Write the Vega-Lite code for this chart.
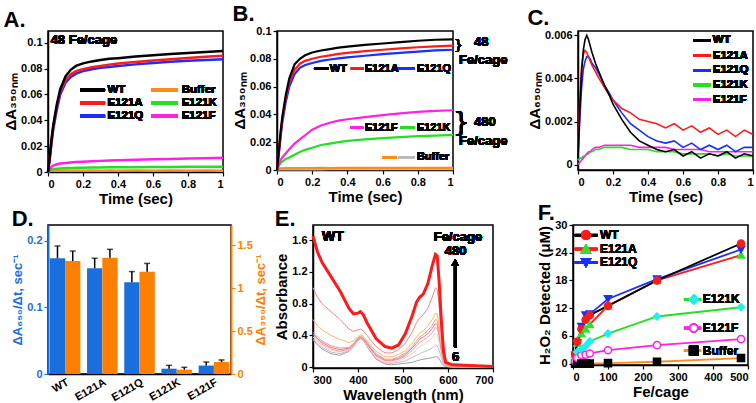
{
"$schema": "https://vega.github.io/schema/vega-lite/v6.json",
"padding": {"left": 2, "top": 2, "right": 2, "bottom": 2},
"background": "white",
"datasets": {
"A": [
{"t":0,"WT":0,"E121A":0,"E121Q":0,"E121F":0,"E121K":0,"Buffer":0.0005},
{"t":0.01,"WT":0.012,"E121A":0.011,"E121Q":0.010,"E121F":0.002,"E121K":0.001,"Buffer":0.0008},
{"t":0.02,"WT":0.025,"E121A":0.024,"E121Q":0.022,"E121F":0.004,"E121K":0.0018,"Buffer":0.001},
{"t":0.03,"WT":0.036,"E121A":0.035,"E121Q":0.033,"E121F":0.005,"E121K":0.0022,"Buffer":0.001},
{"t":0.05,"WT":0.052,"E121A":0.050,"E121Q":0.048,"E121F":0.006,"E121K":0.0026,"Buffer":0.0011},
{"t":0.07,"WT":0.064,"E121A":0.062,"E121Q":0.060,"E121F":0.0065,"E121K":0.0028,"Buffer":0.001},
{"t":0.1,"WT":0.074,"E121A":0.071,"E121Q":0.069,"E121F":0.007,"E121K":0.003,"Buffer":0.0011},
{"t":0.13,"WT":0.079,"E121A":0.0755,"E121Q":0.0735,"E121F":0.0074,"E121K":0.0031,"Buffer":0.001},
{"t":0.16,"WT":0.082,"E121A":0.078,"E121Q":0.076,"E121F":0.0077,"E121K":0.0032,"Buffer":0.0011},
{"t":0.2,"WT":0.084,"E121A":0.0795,"E121Q":0.078,"E121F":0.008,"E121K":0.0033,"Buffer":0.001},
{"t":0.25,"WT":0.0855,"E121A":0.081,"E121Q":0.0795,"E121F":0.0083,"E121K":0.0034,"Buffer":0.0011},
{"t":0.3,"WT":0.0865,"E121A":0.082,"E121Q":0.0805,"E121F":0.0086,"E121K":0.0035,"Buffer":0.001},
{"t":0.35,"WT":0.0875,"E121A":0.083,"E121Q":0.0812,"E121F":0.0088,"E121K":0.0036,"Buffer":0.0011},
{"t":0.4,"WT":0.088,"E121A":0.0838,"E121Q":0.082,"E121F":0.009,"E121K":0.0036,"Buffer":0.001},
{"t":0.5,"WT":0.0892,"E121A":0.085,"E121Q":0.0832,"E121F":0.0094,"E121K":0.0037,"Buffer":0.0011},
{"t":0.6,"WT":0.0902,"E121A":0.0862,"E121Q":0.0842,"E121F":0.0098,"E121K":0.0038,"Buffer":0.001},
{"t":0.7,"WT":0.0912,"E121A":0.0872,"E121Q":0.0852,"E121F":0.0101,"E121K":0.0039,"Buffer":0.0011},
{"t":0.8,"WT":0.092,"E121A":0.0882,"E121Q":0.086,"E121F":0.0104,"E121K":0.004,"Buffer":0.001},
{"t":0.9,"WT":0.0928,"E121A":0.089,"E121Q":0.0866,"E121F":0.0107,"E121K":0.004,"Buffer":0.0011},
{"t":1.0,"WT":0.0935,"E121A":0.0898,"E121Q":0.0872,"E121F":0.011,"E121K":0.0041,"Buffer":0.001}
],
"B": [
{"t":0,"WT":0,"E121A":0,"E121Q":0,"E121F":0,"E121K":0,"BufO":0.0008,"BufG":0.0003},
{"t":0.01,"WT":0.013,"E121A":0.012,"E121Q":0.011,"E121F":0.004,"E121K":0.003,"BufO":0.001,"BufG":0.0004},
{"t":0.02,"WT":0.027,"E121A":0.025,"E121Q":0.023,"E121F":0.007,"E121K":0.005,"BufO":0.0012,"BufG":0.0004},
{"t":0.03,"WT":0.038,"E121A":0.036,"E121Q":0.034,"E121F":0.009,"E121K":0.006,"BufO":0.0012,"BufG":0.0005},
{"t":0.05,"WT":0.054,"E121A":0.052,"E121Q":0.049,"E121F":0.012,"E121K":0.008,"BufO":0.0013,"BufG":0.0005},
{"t":0.07,"WT":0.066,"E121A":0.063,"E121Q":0.060,"E121F":0.015,"E121K":0.009,"BufO":0.0013,"BufG":0.0005},
{"t":0.1,"WT":0.076,"E121A":0.072,"E121Q":0.069,"E121F":0.019,"E121K":0.011,"BufO":0.0014,"BufG":0.0005},
{"t":0.13,"WT":0.080,"E121A":0.0765,"E121Q":0.0735,"E121F":0.022,"E121K":0.013,"BufO":0.0013,"BufG":0.0006},
{"t":0.16,"WT":0.0825,"E121A":0.0785,"E121Q":0.0755,"E121F":0.025,"E121K":0.0145,"BufO":0.0014,"BufG":0.0005},
{"t":0.2,"WT":0.0845,"E121A":0.080,"E121Q":0.077,"E121F":0.029,"E121K":0.016,"BufO":0.0014,"BufG":0.0006},
{"t":0.25,"WT":0.086,"E121A":0.0815,"E121Q":0.0785,"E121F":0.032,"E121K":0.018,"BufO":0.0015,"BufG":0.0005},
{"t":0.3,"WT":0.087,"E121A":0.0825,"E121Q":0.0795,"E121F":0.034,"E121K":0.019,"BufO":0.0014,"BufG":0.0006},
{"t":0.35,"WT":0.088,"E121A":0.0835,"E121Q":0.0803,"E121F":0.0355,"E121K":0.020,"BufO":0.0015,"BufG":0.0006},
{"t":0.4,"WT":0.0888,"E121A":0.0842,"E121Q":0.081,"E121F":0.0365,"E121K":0.021,"BufO":0.0015,"BufG":0.0006},
{"t":0.5,"WT":0.090,"E121A":0.0855,"E121Q":0.0822,"E121F":0.038,"E121K":0.022,"BufO":0.0015,"BufG":0.0006},
{"t":0.6,"WT":0.091,"E121A":0.0865,"E121Q":0.0833,"E121F":0.0395,"E121K":0.023,"BufO":0.0016,"BufG":0.0006},
{"t":0.7,"WT":0.092,"E121A":0.0875,"E121Q":0.0843,"E121F":0.0408,"E121K":0.0237,"BufO":0.0015,"BufG":0.0006},
{"t":0.8,"WT":0.093,"E121A":0.0883,"E121Q":0.0852,"E121F":0.0418,"E121K":0.0243,"BufO":0.0016,"BufG":0.0006},
{"t":0.9,"WT":0.0937,"E121A":0.089,"E121Q":0.086,"E121F":0.0425,"E121K":0.0248,"BufO":0.0016,"BufG":0.0006},
{"t":1.0,"WT":0.094,"E121A":0.0895,"E121Q":0.0865,"E121F":0.043,"E121K":0.0252,"BufO":0.0016,"BufG":0.0006}
],
"C": [
{"t":0,"WT":0.0003,"E121A":0.0005,"E121Q":0.0003,"E121K":0.0002,"E121F":0.0},
{"t":0.01,"WT":0.0025,"E121A":0.003,"E121Q":0.002,"E121K":0.0003,"E121F":0.0001},
{"t":0.02,"WT":0.0042,"E121A":0.0045,"E121Q":0.0035,"E121K":0.0003,"E121F":0.0002},
{"t":0.03,"WT":0.0053,"E121A":0.0051,"E121Q":0.0044,"E121K":0.0004,"E121F":0.0003},
{"t":0.04,"WT":0.0058,"E121A":0.0053,"E121Q":0.0048,"E121K":0.0004,"E121F":0.0004},
{"t":0.05,"WT":0.006,"E121A":0.0052,"E121Q":0.005,"E121K":0.0005,"E121F":0.0005},
{"t":0.06,"WT":0.0058,"E121A":0.005,"E121Q":0.005,"E121K":0.0005,"E121F":0.0006},
{"t":0.07,"WT":0.0055,"E121A":0.0048,"E121Q":0.0049,"E121K":0.0006,"E121F":0.0006},
{"t":0.08,"WT":0.0052,"E121A":0.0046,"E121Q":0.0047,"E121K":0.0006,"E121F":0.0007},
{"t":0.1,"WT":0.0047,"E121A":0.0043,"E121Q":0.0045,"E121K":0.0007,"E121F":0.0008},
{"t":0.12,"WT":0.0043,"E121A":0.004,"E121Q":0.0042,"E121K":0.0007,"E121F":0.0008},
{"t":0.15,"WT":0.0037,"E121A":0.0036,"E121Q":0.0037,"E121K":0.0008,"E121F":0.0009},
{"t":0.18,"WT":0.0032,"E121A":0.0032,"E121Q":0.0033,"E121K":0.0008,"E121F":0.0009},
{"t":0.2,"WT":0.0028,"E121A":0.003,"E121Q":0.003,"E121K":0.0008,"E121F":0.0009},
{"t":0.25,"WT":0.0021,"E121A":0.0026,"E121Q":0.0024,"E121K":0.0008,"E121F":0.0009},
{"t":0.3,"WT":0.0015,"E121A":0.0024,"E121Q":0.0019,"E121K":0.0007,"E121F":0.0009},
{"t":0.35,"WT":0.0011,"E121A":0.0021,"E121Q":0.0016,"E121K":0.0007,"E121F":0.0008},
{"t":0.4,"WT":0.0009,"E121A":0.002,"E121Q":0.0013,"E121K":0.0007,"E121F":0.0008},
{"t":0.45,"WT":0.0007,"E121A":0.0019,"E121Q":0.0011,"E121K":0.0006,"E121F":0.0008},
{"t":0.5,"WT":0.0006,"E121A":0.0017,"E121Q":0.001,"E121K":0.0006,"E121F":0.0008},
{"t":0.55,"WT":0.0007,"E121A":0.0019,"E121Q":0.0011,"E121K":0.0006,"E121F":0.0007},
{"t":0.6,"WT":0.0004,"E121A":0.0016,"E121Q":0.0008,"E121K":0.0005,"E121F":0.0007},
{"t":0.65,"WT":0.0006,"E121A":0.0018,"E121Q":0.001,"E121K":0.0005,"E121F":0.0007},
{"t":0.7,"WT":0.0003,"E121A":0.0015,"E121Q":0.0007,"E121K":0.0005,"E121F":0.0007},
{"t":0.75,"WT":0.0005,"E121A":0.0017,"E121Q":0.0009,"E121K":0.0005,"E121F":0.0006},
{"t":0.8,"WT":0.0004,"E121A":0.0014,"E121Q":0.0007,"E121K":0.0004,"E121F":0.0006},
{"t":0.85,"WT":0.0006,"E121A":0.0016,"E121Q":0.0009,"E121K":0.0005,"E121F":0.0006},
{"t":0.9,"WT":0.0003,"E121A":0.0013,"E121Q":0.0006,"E121K":0.0004,"E121F":0.0006},
{"t":0.95,"WT":0.0005,"E121A":0.0016,"E121Q":0.0008,"E121K":0.0004,"E121F":0.0006},
{"t":1.0,"WT":0.0004,"E121A":0.0014,"E121Q":0.0008,"E121K":0.0004,"E121F":0.0006}
],
"D": [
{"m":"WT","b":0.174,"bt":0.1925,"o":1.317,"ot":1.434},
{"m":"E121A","b":0.159,"bt":0.174,"o":1.356,"ot":1.454},
{"m":"E121Q","b":0.138,"bt":0.154,"o":1.192,"ot":1.29},
{"m":"E121K","b":0.008,"bt":0.013,"o":0.05,"ot":0.078},
{"m":"E121F","b":0.0127,"bt":0.018,"o":0.14,"ot":0.164}
],
"E": [
{"w":300,"c6":0.34,"c12":0.36,"c24":0.38,"c36":0.40,"c48":0.42,"c96":0.44,"c144":0.60,"c240":1.00,"c480":1.65},
{"w":310,"c6":0.28,"c12":0.30,"c24":0.32,"c36":0.34,"c48":0.36,"c96":0.38,"c144":0.52,"c240":0.88,"c480":1.45},
{"w":320,"c6":0.23,"c12":0.25,"c24":0.27,"c36":0.29,"c48":0.31,"c96":0.33,"c144":0.47,"c240":0.80,"c480":1.32},
{"w":340,"c6":0.17,"c12":0.19,"c24":0.21,"c36":0.23,"c48":0.25,"c96":0.27,"c144":0.40,"c240":0.70,"c480":1.14},
{"w":360,"c6":0.15,"c12":0.17,"c24":0.19,"c36":0.20,"c48":0.22,"c96":0.24,"c144":0.35,"c240":0.60,"c480":0.96},
{"w":380,"c6":0.20,"c12":0.21,"c24":0.22,"c36":0.23,"c48":0.24,"c96":0.25,"c144":0.31,"c240":0.48,"c480":0.74},
{"w":390,"c6":0.26,"c12":0.27,"c24":0.27,"c36":0.28,"c48":0.29,"c96":0.30,"c144":0.33,"c240":0.45,"c480":0.67},
{"w":400,"c6":0.33,"c12":0.34,"c24":0.34,"c36":0.35,"c48":0.36,"c96":0.37,"c144":0.39,"c240":0.47,"c480":0.68},
{"w":405,"c6":0.36,"c12":0.36,"c24":0.37,"c36":0.37,"c48":0.38,"c96":0.39,"c144":0.41,"c240":0.48,"c480":0.70},
{"w":412,"c6":0.34,"c12":0.34,"c24":0.35,"c36":0.35,"c48":0.36,"c96":0.37,"c144":0.39,"c240":0.46,"c480":0.66},
{"w":420,"c6":0.26,"c12":0.27,"c24":0.28,"c36":0.29,"c48":0.30,"c96":0.31,"c144":0.33,"c240":0.40,"c480":0.56},
{"w":440,"c6":0.10,"c12":0.11,"c24":0.12,"c36":0.14,"c48":0.15,"c96":0.17,"c144":0.20,"c240":0.26,"c480":0.36},
{"w":460,"c6":0.04,"c12":0.05,"c24":0.06,"c36":0.08,"c48":0.09,"c96":0.10,"c144":0.13,"c240":0.18,"c480":0.26},
{"w":475,"c6":0.03,"c12":0.05,"c24":0.06,"c36":0.08,"c48":0.09,"c96":0.10,"c144":0.13,"c240":0.18,"c480":0.24},
{"w":490,"c6":0.04,"c12":0.06,"c24":0.08,"c36":0.10,"c48":0.11,"c96":0.13,"c144":0.16,"c240":0.22,"c480":0.28},
{"w":505,"c6":0.05,"c12":0.08,"c24":0.12,"c36":0.14,"c48":0.16,"c96":0.18,"c144":0.21,"c240":0.30,"c480":0.42},
{"w":520,"c6":0.06,"c12":0.12,"c24":0.17,"c36":0.21,"c48":0.24,"c96":0.26,"c144":0.30,"c240":0.44,"c480":0.64},
{"w":530,"c6":0.08,"c12":0.15,"c24":0.22,"c36":0.27,"c48":0.30,"c96":0.33,"c144":0.38,"c240":0.56,"c480":0.82},
{"w":537,"c6":0.09,"c12":0.17,"c24":0.26,"c36":0.31,"c48":0.35,"c96":0.38,"c144":0.43,"c240":0.62,"c480":0.88},
{"w":545,"c6":0.10,"c12":0.19,"c24":0.28,"c36":0.34,"c48":0.38,"c96":0.41,"c144":0.46,"c240":0.66,"c480":0.92},
{"w":555,"c6":0.11,"c12":0.21,"c24":0.32,"c36":0.38,"c48":0.42,"c96":0.46,"c144":0.52,"c240":0.74,"c480":1.05},
{"w":565,"c6":0.12,"c12":0.24,"c24":0.37,"c36":0.44,"c48":0.49,"c96":0.53,"c144":0.60,"c240":0.88,"c480":1.28},
{"w":572,"c6":0.13,"c12":0.28,"c24":0.42,"c36":0.50,"c48":0.55,"c96":0.60,"c144":0.68,"c240":1.00,"c480":1.42},
{"w":576,"c6":0.13,"c12":0.27,"c24":0.41,"c36":0.49,"c48":0.54,"c96":0.59,"c144":0.67,"c240":0.98,"c480":1.40},
{"w":580,"c6":0.11,"c12":0.22,"c24":0.33,"c36":0.39,"c48":0.43,"c96":0.47,"c144":0.53,"c240":0.78,"c480":1.10},
{"w":585,"c6":0.06,"c12":0.12,"c24":0.18,"c36":0.22,"c48":0.24,"c96":0.26,"c144":0.29,"c240":0.42,"c480":0.60},
{"w":590,"c6":0.02,"c12":0.04,"c24":0.06,"c36":0.07,"c48":0.08,"c96":0.09,"c144":0.10,"c240":0.14,"c480":0.20},
{"w":595,"c6":0.01,"c12":0.01,"c24":0.02,"c36":0.02,"c48":0.03,"c96":0.03,"c144":0.04,"c240":0.05,"c480":0.06},
{"w":610,"c6":0.0,"c12":0.0,"c24":0.01,"c36":0.01,"c48":0.01,"c96":0.01,"c144":0.02,"c240":0.02,"c480":0.03},
{"w":650,"c6":0.0,"c12":0.0,"c24":0.0,"c36":0.0,"c48":0.01,"c96":0.01,"c144":0.01,"c240":0.01,"c480":0.02},
{"w":700,"c6":0.0,"c12":0.0,"c24":0.0,"c36":0.0,"c48":0.0,"c96":0.0,"c144":0.01,"c240":0.01,"c480":0.01}
],
"F": [
{"x":6,"WT":2.0,"E121A":2.0,"E121Q":1.8,"E121K":1.8,"E121F":0.5,"Buffer":0},
{"x":12,"WT":4.8,"E121A":4.5,"E121Q":4.5,"E121K":2.5,"E121F":1.2,"Buffer":0},
{"x":24,"WT":7.5,"E121A":6.5,"E121Q":8.0,"E121K":3.0,"E121F":1.8,"Buffer":0},
{"x":36,"WT":9.5,"E121A":7.5,"E121Q":10.5,"E121K":3.8,"E121F":1.9,"Buffer":0},
{"x":48,"WT":10.5,"E121A":8.5,"E121Q":10.7,"E121K":4.8,"E121F":2.2,"Buffer":0},
{"x":100,"WT":12.5,"E121A":12.5,"E121Q":14.0,"E121K":6.5,"E121F":2.9,"Buffer":0.1},
{"x":240,"WT":18.0,"E121A":18.0,"E121Q":18.3,"E121K":10.2,"E121F":4.0,"Buffer":0.4},
{"x":480,"WT":26.0,"E121A":23.5,"E121Q":24.7,"E121K":12.2,"E121F":5.3,"Buffer":1.2}
]
},
"vconcat": [
{"hconcat": [
{"hconcat": [
{
"width": 175, "height": 141,
"title": {"text": "A.", "offset": -1},
"data": {"name": "A"},
"resolve": {"axis": {"x": "independent", "y": "independent"}},
"layer": [
{"transform": [{"fold": ["Buffer","E121K","E121F","E121Q","E121A","WT"], "as": ["s","v"]}],
 "mark": {"type": "line", "strokeWidth": 2.5},
 "encoding": {
  "x": {"field": "t", "type": "quantitative", "scale": {"domain": [0,1]}, "axis": {"title": "Time (sec)", "values": [0,0.2,0.4,0.6,0.8,1], "format": "~g"}},
  "y": {"field": "v", "type": "quantitative", "scale": {"domain": [0,0.109], "nice": false}, "axis": {"title": "ΔA₃₅₀ₙₘ", "values": [0,0.02,0.04,0.06,0.08,0.1], "format": "~g"}},
  "color": {"field": "s", "type": "nominal", "legend": null,
   "scale": {"domain": ["WT","Buffer","E121A","E121K","E121Q","E121F"], "range": ["#000000","#ff8c1a","#ff1a1a","#22e022","#1a2eff","#ff22e0"]}}
 }},
{"mark": {"type": "text", "align": "left", "baseline": "top", "fontSize": 13, "fontWeight": "bold", "font": "Liberation Sans"},
 "encoding": {"x": {"datum": 0.015, "axis": null}, "y": {"datum": 0.107, "axis": null}, "text": {"value": "48 Fe/cage"}}},
{"mark": {"type": "rule", "color": "#000000", "strokeWidth": 3}, "encoding": {"x": {"datum": 0.183, "axis": null}, "x2": {"datum": 0.326}, "y": {"datum": 0.0634, "axis": null}}},
{"mark": {"type": "rule", "color": "#ff8c1a", "strokeWidth": 3}, "encoding": {"x": {"datum": 0.592, "axis": null}, "x2": {"datum": 0.741}, "y": {"datum": 0.0634, "axis": null}}},
{"mark": {"type": "rule", "color": "#ff1a1a", "strokeWidth": 3}, "encoding": {"x": {"datum": 0.183, "axis": null}, "x2": {"datum": 0.326}, "y": {"datum": 0.0533, "axis": null}}},
{"mark": {"type": "rule", "color": "#22e022", "strokeWidth": 3}, "encoding": {"x": {"datum": 0.592, "axis": null}, "x2": {"datum": 0.741}, "y": {"datum": 0.0533, "axis": null}}},
{"mark": {"type": "rule", "color": "#1a2eff", "strokeWidth": 3}, "encoding": {"x": {"datum": 0.183, "axis": null}, "x2": {"datum": 0.326}, "y": {"datum": 0.0431, "axis": null}}},
{"mark": {"type": "rule", "color": "#ff22e0", "strokeWidth": 3}, "encoding": {"x": {"datum": 0.592, "axis": null}, "x2": {"datum": 0.741}, "y": {"datum": 0.0431, "axis": null}}},
{"mark": {"type": "text", "align": "left", "baseline": "middle", "fontSize": 11.5, "fontWeight": "bold", "font": "Liberation Sans"}, "encoding": {"x": {"datum": 0.34, "axis": null}, "y": {"datum": 0.0634, "axis": null}, "text": {"value": "WT"}}},
{"mark": {"type": "text", "align": "left", "baseline": "middle", "fontSize": 11.5, "fontWeight": "bold", "font": "Liberation Sans"}, "encoding": {"x": {"datum": 0.764, "axis": null}, "y": {"datum": 0.0634, "axis": null}, "text": {"value": "Buffer"}}},
{"mark": {"type": "text", "align": "left", "baseline": "middle", "fontSize": 11.5, "fontWeight": "bold", "font": "Liberation Sans"}, "encoding": {"x": {"datum": 0.34, "axis": null}, "y": {"datum": 0.0533, "axis": null}, "text": {"value": "E121A"}}},
{"mark": {"type": "text", "align": "left", "baseline": "middle", "fontSize": 11.5, "fontWeight": "bold", "font": "Liberation Sans"}, "encoding": {"x": {"datum": 0.764, "axis": null}, "y": {"datum": 0.0533, "axis": null}, "text": {"value": "E121K"}}},
{"mark": {"type": "text", "align": "left", "baseline": "middle", "fontSize": 11.5, "fontWeight": "bold", "font": "Liberation Sans"}, "encoding": {"x": {"datum": 0.34, "axis": null}, "y": {"datum": 0.0431, "axis": null}, "text": {"value": "E121Q"}}},
{"mark": {"type": "text", "align": "left", "baseline": "middle", "fontSize": 11.5, "fontWeight": "bold", "font": "Liberation Sans"}, "encoding": {"x": {"datum": 0.764, "axis": null}, "y": {"datum": 0.0431, "axis": null}, "text": {"value": "E121F"}}}
]
},
{
"width": 176, "height": 139,
"title": {"text": "B.", "offset": -1},
"data": {"name": "B"},
"resolve": {"axis": {"x": "independent", "y": "independent"}},
"layer": [
{"transform": [{"fold": ["BufG","BufO","E121K","E121F","E121Q","E121A","WT"], "as": ["s","v"]}],
 "mark": {"type": "line", "strokeWidth": 2.2},
 "encoding": {
  "x": {"field": "t", "type": "quantitative", "scale": {"domain": [0,1]}, "axis": {"title": "Time (sec)", "values": [0,0.2,0.4,0.6,0.8,1], "format": "~g"}},
  "y": {"field": "v", "type": "quantitative", "scale": {"domain": [0,0.1], "nice": false}, "axis": {"title": "ΔA₃₅₀ₙₘ", "values": [0,0.02,0.04,0.06,0.08,0.1], "format": "~g", "titlePadding": 2}},
  "color": {"field": "s", "type": "nominal", "legend": null,
   "scale": {"domain": ["WT","E121A","E121Q","E121F","E121K","BufO","BufG"], "range": ["#000000","#ff1a1a","#1a2eff","#ff22e0","#22e022","#ff8c1a","#bbbbbb"]}}
 }},
{"mark": {"type": "rule", "color": "#000000", "strokeWidth": 2.5}, "encoding": {"x": {"datum": 0.21, "axis": null}, "x2": {"datum": 0.295}, "y": {"datum": 0.073, "axis": null}}},
{"mark": {"type": "rule", "color": "#ff1a1a", "strokeWidth": 2.5}, "encoding": {"x": {"datum": 0.42, "axis": null}, "x2": {"datum": 0.49}, "y": {"datum": 0.073, "axis": null}}},
{"mark": {"type": "rule", "color": "#1a2eff", "strokeWidth": 2.5}, "encoding": {"x": {"datum": 0.67, "axis": null}, "x2": {"datum": 0.78}, "y": {"datum": 0.073, "axis": null}}},
{"mark": {"type": "rule", "color": "#ff22e0", "strokeWidth": 2}, "encoding": {"x": {"datum": 0.415, "axis": null}, "x2": {"datum": 0.49}, "y": {"datum": 0.0304, "axis": null}}},
{"mark": {"type": "rule", "color": "#22e022", "strokeWidth": 2}, "encoding": {"x": {"datum": 0.70, "axis": null}, "x2": {"datum": 0.78}, "y": {"datum": 0.0304, "axis": null}}},
{"mark": {"type": "rule", "color": "#ff8c1a", "strokeWidth": 2}, "encoding": {"x": {"datum": 0.597, "axis": null}, "x2": {"datum": 0.68}, "y": {"datum": 0.0092, "axis": null}}},
{"mark": {"type": "rule", "color": "#bbbbbb", "strokeWidth": 2}, "encoding": {"x": {"datum": 0.69, "axis": null}, "x2": {"datum": 0.78}, "y": {"datum": 0.0092, "axis": null}}},
{"mark": {"type": "text", "align": "left", "baseline": "middle", "fontSize": 11, "fontWeight": "bold", "font": "Liberation Sans"}, "encoding": {"x": {"datum": 0.30, "axis": null}, "y": {"datum": 0.073, "axis": null}, "text": {"value": "WT"}}},
{"mark": {"type": "text", "align": "left", "baseline": "middle", "fontSize": 11, "fontWeight": "bold", "font": "Liberation Sans"}, "encoding": {"x": {"datum": 0.50, "axis": null}, "y": {"datum": 0.073, "axis": null}, "text": {"value": "E121A"}}},
{"mark": {"type": "text", "align": "left", "baseline": "middle", "fontSize": 11, "fontWeight": "bold", "font": "Liberation Sans"}, "encoding": {"x": {"datum": 0.795, "axis": null}, "y": {"datum": 0.073, "axis": null}, "text": {"value": "E121Q"}}},
{"mark": {"type": "text", "align": "left", "baseline": "middle", "fontSize": 11, "fontWeight": "bold", "font": "Liberation Sans"}, "encoding": {"x": {"datum": 0.50, "axis": null}, "y": {"datum": 0.0304, "axis": null}, "text": {"value": "E121F"}}},
{"mark": {"type": "text", "align": "left", "baseline": "middle", "fontSize": 11, "fontWeight": "bold", "font": "Liberation Sans"}, "encoding": {"x": {"datum": 0.795, "axis": null}, "y": {"datum": 0.0304, "axis": null}, "text": {"value": "E121K"}}},
{"mark": {"type": "text", "align": "left", "baseline": "middle", "fontSize": 11, "fontWeight": "bold", "font": "Liberation Sans"}, "encoding": {"x": {"datum": 0.795, "axis": null}, "y": {"datum": 0.0092, "axis": null}, "text": {"value": "Buffer"}}},
{"mark": {"type": "text", "align": "left", "baseline": "middle", "fontSize": 14, "font": "DejaVu Sans"}, "encoding": {"x": {"datum": 1.005, "axis": null}, "y": {"datum": 0.0895, "axis": null}, "text": {"value": "}"}}},
{"mark": {"type": "text", "align": "left", "baseline": "middle", "fontSize": 26, "font": "DejaVu Sans"}, "encoding": {"x": {"datum": 1.0, "axis": null}, "y": {"datum": 0.034, "axis": null}, "text": {"value": "}"}}},
{"mark": {"type": "text", "align": "left", "baseline": "middle", "fontSize": 13, "fontWeight": "bold", "font": "Liberation Sans"}, "encoding": {"x": {"datum": 1.12, "axis": null}, "y": {"datum": 0.092, "axis": null}, "text": {"value": "48"}}},
{"mark": {"type": "text", "align": "left", "baseline": "middle", "fontSize": 13, "fontWeight": "bold", "font": "Liberation Sans"}, "encoding": {"x": {"datum": 1.034, "axis": null}, "y": {"datum": 0.079, "axis": null}, "text": {"value": "Fe/cage"}}},
{"mark": {"type": "text", "align": "left", "baseline": "middle", "fontSize": 13, "fontWeight": "bold", "font": "Liberation Sans"}, "encoding": {"x": {"datum": 1.12, "axis": null}, "y": {"datum": 0.0347, "axis": null}, "text": {"value": "480"}}},
{"mark": {"type": "text", "align": "left", "baseline": "middle", "fontSize": 13, "fontWeight": "bold", "font": "Liberation Sans"}, "encoding": {"x": {"datum": 1.034, "axis": null}, "y": {"datum": 0.021, "axis": null}, "text": {"value": "Fe/cage"}}}
]
}
], "spacing": 2, "resolve": {"scale": {"color": "independent"}, "legend": {"color": "independent"}}},
{
"width": 175, "height": 139,
"title": {"text": "C.", "offset": -1},
"data": {"name": "C"},
"resolve": {"axis": {"x": "independent", "y": "independent"}},
"layer": [
{"transform": [{"fold": ["E121K","E121F","E121Q","E121A","WT"], "as": ["s","v"]}],
 "mark": {"type": "line", "strokeWidth": 1.6},
 "encoding": {
  "x": {"field": "t", "type": "quantitative", "scale": {"domain": [0,1]}, "axis": {"title": "Time (sec)", "values": [0,0.2,0.4,0.6,0.8,1], "format": "~g"}},
  "y": {"field": "v", "type": "quantitative", "scale": {"domain": [-0.00025,0.0062], "nice": false}, "axis": {"title": "ΔA₆₅₀ₙₘ", "values": [0,0.002,0.004,0.006], "format": "~g", "titlePadding": 2}},
  "color": {"field": "s", "type": "nominal", "legend": null,
   "scale": {"domain": ["WT","E121A","E121Q","E121K","E121F"], "range": ["#000000","#ff1a1a","#1a2eff","#22e022","#ff22e0"]}}
 }},
{"mark": {"type": "rule", "color": "#000000", "strokeWidth": 2.5}, "encoding": {"x": {"datum": 0.661, "axis": null}, "x2": {"datum": 0.756}, "y": {"datum": 0.00577, "axis": null}}},
{"mark": {"type": "rule", "color": "#ff1a1a", "strokeWidth": 2.5}, "encoding": {"x": {"datum": 0.661, "axis": null}, "x2": {"datum": 0.756}, "y": {"datum": 0.00506, "axis": null}}},
{"mark": {"type": "rule", "color": "#1a2eff", "strokeWidth": 2.5}, "encoding": {"x": {"datum": 0.661, "axis": null}, "x2": {"datum": 0.756}, "y": {"datum": 0.00437, "axis": null}}},
{"mark": {"type": "rule", "color": "#22e022", "strokeWidth": 2.5}, "encoding": {"x": {"datum": 0.661, "axis": null}, "x2": {"datum": 0.756}, "y": {"datum": 0.0037, "axis": null}}},
{"mark": {"type": "rule", "color": "#ff22e0", "strokeWidth": 2.5}, "encoding": {"x": {"datum": 0.661, "axis": null}, "x2": {"datum": 0.756}, "y": {"datum": 0.00302, "axis": null}}},
{"mark": {"type": "text", "align": "left", "baseline": "middle", "fontSize": 11.5, "fontWeight": "bold", "font": "Liberation Sans"}, "encoding": {"x": {"datum": 0.77, "axis": null}, "y": {"datum": 0.00577, "axis": null}, "text": {"value": "WT"}}},
{"mark": {"type": "text", "align": "left", "baseline": "middle", "fontSize": 11.5, "fontWeight": "bold", "font": "Liberation Sans"}, "encoding": {"x": {"datum": 0.77, "axis": null}, "y": {"datum": 0.00506, "axis": null}, "text": {"value": "E121A"}}},
{"mark": {"type": "text", "align": "left", "baseline": "middle", "fontSize": 11.5, "fontWeight": "bold", "font": "Liberation Sans"}, "encoding": {"x": {"datum": 0.77, "axis": null}, "y": {"datum": 0.00437, "axis": null}, "text": {"value": "E121Q"}}},
{"mark": {"type": "text", "align": "left", "baseline": "middle", "fontSize": 11.5, "fontWeight": "bold", "font": "Liberation Sans"}, "encoding": {"x": {"datum": 0.77, "axis": null}, "y": {"datum": 0.0037, "axis": null}, "text": {"value": "E121K"}}},
{"mark": {"type": "text", "align": "left", "baseline": "middle", "fontSize": 11.5, "fontWeight": "bold", "font": "Liberation Sans"}, "encoding": {"x": {"datum": 0.77, "axis": null}, "y": {"datum": 0.00302, "axis": null}, "text": {"value": "E121F"}}}
]
}
], "spacing": 17, "resolve": {"scale": {"color": "independent"}, "legend": {"color": "independent"}}},
{"hconcat": [
{"hconcat": [
{
"width": 183, "height": 149,
"title": {"text": "D.", "offset": -6},
"data": {"name": "D"},
"layer": [
{"layer": [
 {"mark": {"type": "bar", "color": "#1a6fdc"},
  "encoding": {
   "x": {"field": "m", "type": "nominal", "sort": null, "scale": {"paddingInner": 0.18, "paddingOuter": 0.05}, "axis": {"title": null, "labelAngle": -30, "labelFontSize": 11, "ticks": false}},
   "xOffset": {"datum": "a", "scale": {"domain": ["a","b"]}},
   "y": {"field": "b", "type": "quantitative", "scale": {"domain": [0,0.224], "nice": false},
    "axis": {"orient": "left", "title": "ΔA₆₅₀/Δt, sec⁻¹", "titleFontSize": 13, "titlePadding": 2, "values": [0,0.05,0.1,0.15,0.2], "format": "~g", "labelColor": "#1a6fdc", "titleColor": "#1a6fdc", "domainColor": "#1a6fdc", "tickColor": "#1a6fdc", "domainWidth": 2}}}},
 {"mark": {"type": "rule", "color": "#000000", "strokeWidth": 1.5},
  "encoding": {
   "x": {"field": "m", "type": "nominal", "sort": null},
   "xOffset": {"datum": "a"},
   "y": {"field": "b", "type": "quantitative"}, "y2": {"field": "bt"}}},
 {"mark": {"type": "tick", "color": "#000000", "thickness": 1.5, "size": 6},
  "encoding": {
   "x": {"field": "m", "type": "nominal", "sort": null},
   "xOffset": {"datum": "a"},
   "y": {"field": "bt", "type": "quantitative"}}}
]},
{"layer": [
 {"mark": {"type": "bar", "color": "#ff8000"},
  "encoding": {
   "x": {"field": "m", "type": "nominal", "sort": null},
   "xOffset": {"datum": "b"},
   "y": {"field": "o", "type": "quantitative", "scale": {"domain": [0,1.738], "nice": false},
    "axis": {"orient": "right", "title": "ΔA₃₅₀/Δt, sec⁻¹", "titleAngle": 270, "titleBaseline": "top", "titleFontSize": 13, "titlePadding": 2, "values": [0,0.5,1,1.5], "format": "~g", "labelColor": "#ff8000", "titleColor": "#ff8000", "domainColor": "#ff8000", "tickColor": "#ff8000", "domainWidth": 2}}}},
 {"mark": {"type": "rule", "color": "#000000", "strokeWidth": 1.5},
  "encoding": {
   "x": {"field": "m", "type": "nominal", "sort": null},
   "xOffset": {"datum": "b"},
   "y": {"field": "o", "type": "quantitative"}, "y2": {"field": "ot"}}},
 {"mark": {"type": "tick", "color": "#000000", "thickness": 1.5, "size": 6},
  "encoding": {
   "x": {"field": "m", "type": "nominal", "sort": null},
   "xOffset": {"datum": "b"},
   "y": {"field": "ot", "type": "quantitative"}}}
]}
],
"resolve": {"scale": {"y": "independent"}}
},
{
"width": 180, "height": 143,
"title": {"text": "E.", "offset": -6},
"data": {"name": "E"},
"resolve": {"axis": {"x": "independent", "y": "independent"}},
"layer": [
{"transform": [{"fold": ["c6","c12","c24","c36","c48","c96","c144","c240"], "as": ["s","v"]}],
 "mark": {"type": "line", "strokeWidth": 1},
 "encoding": {
  "x": {"field": "w", "type": "quantitative", "scale": {"domain": [300,700]}, "axis": {"title": "Wavelength (nm)", "values": [300,400,500,600,700]}},
  "y": {"field": "v", "type": "quantitative", "scale": {"domain": [-0.01,1.79], "nice": false}, "axis": {"title": "Absorbance", "values": [0,0.4,0.8,1.2,1.6], "format": "~g"}},
  "color": {"field": "s", "type": "nominal", "legend": null,
   "scale": {"domain": ["c6","c12","c24","c36","c48","c96","c144","c240"], "range": ["#a0a0a0","#c8b8d8","#f6cccc","#f4a0a0","#ee7a7a","#f59a9a","#ffb870","#f48a8a"]}}
 }},
{"mark": {"type": "line", "strokeWidth": 3, "color": "#ff1a1a"},
 "encoding": {"x": {"field": "w", "type": "quantitative", "axis": null}, "y": {"field": "c480", "type": "quantitative", "axis": null}}},
{"mark": {"type": "text", "align": "left", "baseline": "top", "fontSize": 14, "fontWeight": "bold", "font": "Liberation Sans"}, "encoding": {"x": {"datum": 320, "axis": null}, "y": {"datum": 1.73, "axis": null}, "text": {"value": "WT"}}},
{"mark": {"type": "text", "align": "center", "baseline": "middle", "fontSize": 13, "fontWeight": "bold", "font": "Liberation Sans"}, "encoding": {"x": {"datum": 622, "axis": null}, "y": {"datum": 1.64, "axis": null}, "text": {"value": "Fe/cage"}}},
{"mark": {"type": "text", "align": "center", "baseline": "middle", "fontSize": 13, "fontWeight": "bold", "font": "Liberation Sans"}, "encoding": {"x": {"datum": 617, "axis": null}, "y": {"datum": 1.46, "axis": null}, "text": {"value": "480"}}},
{"mark": {"type": "text", "align": "center", "baseline": "middle", "fontSize": 13, "fontWeight": "bold", "font": "Liberation Sans"}, "encoding": {"x": {"datum": 617, "axis": null}, "y": {"datum": 0.13, "axis": null}, "text": {"value": "6"}}},
{"mark": {"type": "rule", "color": "#000000", "strokeWidth": 2.5}, "encoding": {"x": {"datum": 616, "axis": null}, "y": {"datum": 0.25, "axis": null}, "y2": {"datum": 1.3}}},
{"mark": {"type": "point", "shape": "triangle-up", "filled": true, "color": "#000000", "size": 60, "opacity": 1}, "encoding": {"x": {"datum": 616, "axis": null}, "y": {"datum": 1.32, "axis": null}}}
]
}
], "spacing": 4, "resolve": {"scale": {"color": "independent"}}},
{
"width": 175, "height": 140,
"title": {"text": "F.", "offset": -6},
"data": {"name": "F"},
"resolve": {"axis": {"x": "independent", "y": "independent"}},
"layer": [
{"transform": [{"fold": ["Buffer","E121F","E121K","E121A","E121Q","WT"], "as": ["s","v"]}],
 "mark": {"type": "line", "strokeWidth": 1.8},
 "encoding": {
   "x": {"field": "x", "type": "quantitative", "scale": {"domain": [0,500]}, "axis": {"title": "Fe/cage", "values": [0,100,200,300,400,500]}},
   "y": {"field": "v", "type": "quantitative", "scale": {"domain": [-0.3,30], "nice": false}, "axis": {"title": "H₂O₂ Detected (μM)", "values": [0,6,12,18,24,30]}},
   "color": {"field": "s", "type": "nominal", "legend": null,
    "scale": {"domain": ["WT","E121A","E121Q","E121K","E121F","Buffer"], "range": ["#000000","#ff1a1a","#1a2eff","#22e022","#ff22e0","#ff8c1a"]}}}},
{"transform": [{"fold": ["Buffer","E121F","E121K","E121A","E121Q","WT"], "as": ["s","v"]}],
 "mark": {"type": "point", "filled": true, "size": 50, "strokeWidth": 1.5, "opacity": 1},
 "encoding": {
   "x": {"field": "x", "type": "quantitative", "axis": null},
   "y": {"field": "v", "type": "quantitative", "axis": null},
   "shape": {"field": "s", "type": "nominal", "legend": null, "scale": {"domain": ["WT","E121A","E121Q","E121K","E121F","Buffer"], "range": ["circle","triangle-up","triangle-down","diamond","circle","square"]}},
   "fill": {"field": "s", "type": "nominal", "legend": null, "scale": {"domain": ["WT","E121A","E121Q","E121K","E121F","Buffer"], "range": ["#ff1a1a","#33dd33","#1a2eff","#22eeee","#ffffff","#000000"]}},
   "stroke": {"field": "s", "type": "nominal", "legend": null, "scale": {"domain": ["WT","E121A","E121Q","E121K","E121F","Buffer"], "range": ["#ff1a1a","#33dd33","#1a2eff","#22eeee","#ff22e0","#000000"]}}}},
{"mark": {"type": "rule", "color": "#000000", "strokeWidth": 2.5}, "encoding": {"x": {"datum": 5, "axis": null}, "x2": {"datum": 70}, "y": {"datum": 27.8, "axis": null}}},
{"mark": {"type": "rule", "color": "#ff1a1a", "strokeWidth": 2.5}, "encoding": {"x": {"datum": 5, "axis": null}, "x2": {"datum": 70}, "y": {"datum": 24.8, "axis": null}}},
{"mark": {"type": "rule", "color": "#1a2eff", "strokeWidth": 2.5}, "encoding": {"x": {"datum": 5, "axis": null}, "x2": {"datum": 70}, "y": {"datum": 21.9, "axis": null}}},
{"mark": {"type": "rule", "color": "#22e022", "strokeWidth": 2.5}, "encoding": {"x": {"datum": 317, "axis": null}, "x2": {"datum": 366}, "y": {"datum": 13.9, "axis": null}}},
{"mark": {"type": "rule", "color": "#ff22e0", "strokeWidth": 2.5}, "encoding": {"x": {"datum": 317, "axis": null}, "x2": {"datum": 366}, "y": {"datum": 7.7, "axis": null}}},
{"mark": {"type": "rule", "color": "#ff8c1a", "strokeWidth": 2.5}, "encoding": {"x": {"datum": 317, "axis": null}, "x2": {"datum": 366}, "y": {"datum": 2.8, "axis": null}}},
{"mark": {"type": "point", "shape": "circle", "filled": true, "fill": "#ff1a1a", "stroke": "#ff1a1a", "size": 60, "opacity": 1}, "encoding": {"x": {"datum": 37, "axis": null}, "y": {"datum": 27.8, "axis": null}}},
{"mark": {"type": "point", "shape": "triangle-up", "filled": true, "fill": "#33dd33", "stroke": "#33dd33", "size": 60, "opacity": 1}, "encoding": {"x": {"datum": 37, "axis": null}, "y": {"datum": 24.8, "axis": null}}},
{"mark": {"type": "point", "shape": "triangle-down", "filled": true, "fill": "#1a2eff", "stroke": "#1a2eff", "size": 60, "opacity": 1}, "encoding": {"x": {"datum": 37, "axis": null}, "y": {"datum": 21.9, "axis": null}}},
{"mark": {"type": "point", "shape": "diamond", "filled": true, "fill": "#22eeee", "stroke": "#22eeee", "size": 60, "opacity": 1}, "encoding": {"x": {"datum": 345, "axis": null}, "y": {"datum": 13.9, "axis": null}}},
{"mark": {"type": "point", "shape": "circle", "filled": true, "fill": "#ffffff", "stroke": "#ff22e0", "strokeWidth": 1.5, "size": 60, "opacity": 1}, "encoding": {"x": {"datum": 345, "axis": null}, "y": {"datum": 7.7, "axis": null}}},
{"mark": {"type": "point", "shape": "square", "filled": true, "fill": "#000000", "stroke": "#000000", "size": 60, "opacity": 1}, "encoding": {"x": {"datum": 345, "axis": null}, "y": {"datum": 2.8, "axis": null}}},
{"mark": {"type": "text", "align": "left", "baseline": "middle", "fontSize": 12, "fontWeight": "bold", "font": "Liberation Sans"}, "encoding": {"x": {"datum": 77, "axis": null}, "y": {"datum": 27.8, "axis": null}, "text": {"value": "WT"}}},
{"mark": {"type": "text", "align": "left", "baseline": "middle", "fontSize": 12, "fontWeight": "bold", "font": "Liberation Sans"}, "encoding": {"x": {"datum": 77, "axis": null}, "y": {"datum": 24.8, "axis": null}, "text": {"value": "E121A"}}},
{"mark": {"type": "text", "align": "left", "baseline": "middle", "fontSize": 12, "fontWeight": "bold", "font": "Liberation Sans"}, "encoding": {"x": {"datum": 77, "axis": null}, "y": {"datum": 21.9, "axis": null}, "text": {"value": "E121Q"}}},
{"mark": {"type": "text", "align": "left", "baseline": "middle", "fontSize": 12, "fontWeight": "bold", "font": "Liberation Sans"}, "encoding": {"x": {"datum": 371, "axis": null}, "y": {"datum": 13.9, "axis": null}, "text": {"value": "E121K"}}},
{"mark": {"type": "text", "align": "left", "baseline": "middle", "fontSize": 12, "fontWeight": "bold", "font": "Liberation Sans"}, "encoding": {"x": {"datum": 371, "axis": null}, "y": {"datum": 7.7, "axis": null}, "text": {"value": "E121F"}}},
{"mark": {"type": "text", "align": "left", "baseline": "middle", "fontSize": 12, "fontWeight": "bold", "font": "Liberation Sans"}, "encoding": {"x": {"datum": 371, "axis": null}, "y": {"datum": 2.8, "axis": null}, "text": {"value": "Buffer"}}}
]
}
], "spacing": 37, "resolve": {"scale": {"color": "independent", "fill": "independent", "stroke": "independent", "shape": "independent"}}}
],
"spacing": -6,
"resolve": {"scale": {"color": "independent", "fill": "independent", "stroke": "independent", "shape": "independent"}, "legend": {"color": "independent"}},
"config": {
 "font": "Liberation Sans",
 "view": {"stroke": "#000000", "strokeWidth": 1.5},
 "title": {"fontSize": 22, "fontWeight": "bold", "anchor": "start", "font": "Liberation Sans", "color": "#000000"},
 "axis": {"labelFont": "Liberation Sans", "titleFont": "Liberation Sans", "labelFontWeight": "bold", "labelFontSize": 11, "labelColor": "#000000", "titleFontWeight": "bold", "titleFontSize": 15, "titleColor": "#000000", "domainColor": "#000000", "domainWidth": 1.5, "tickColor": "#000000", "tickWidth": 1.2, "tickSize": 4, "grid": false, "labelPadding": 2, "titlePadding": 2, "labelOverlap": false},
 "legend": {"labelFont": "Liberation Sans"}
}
}
